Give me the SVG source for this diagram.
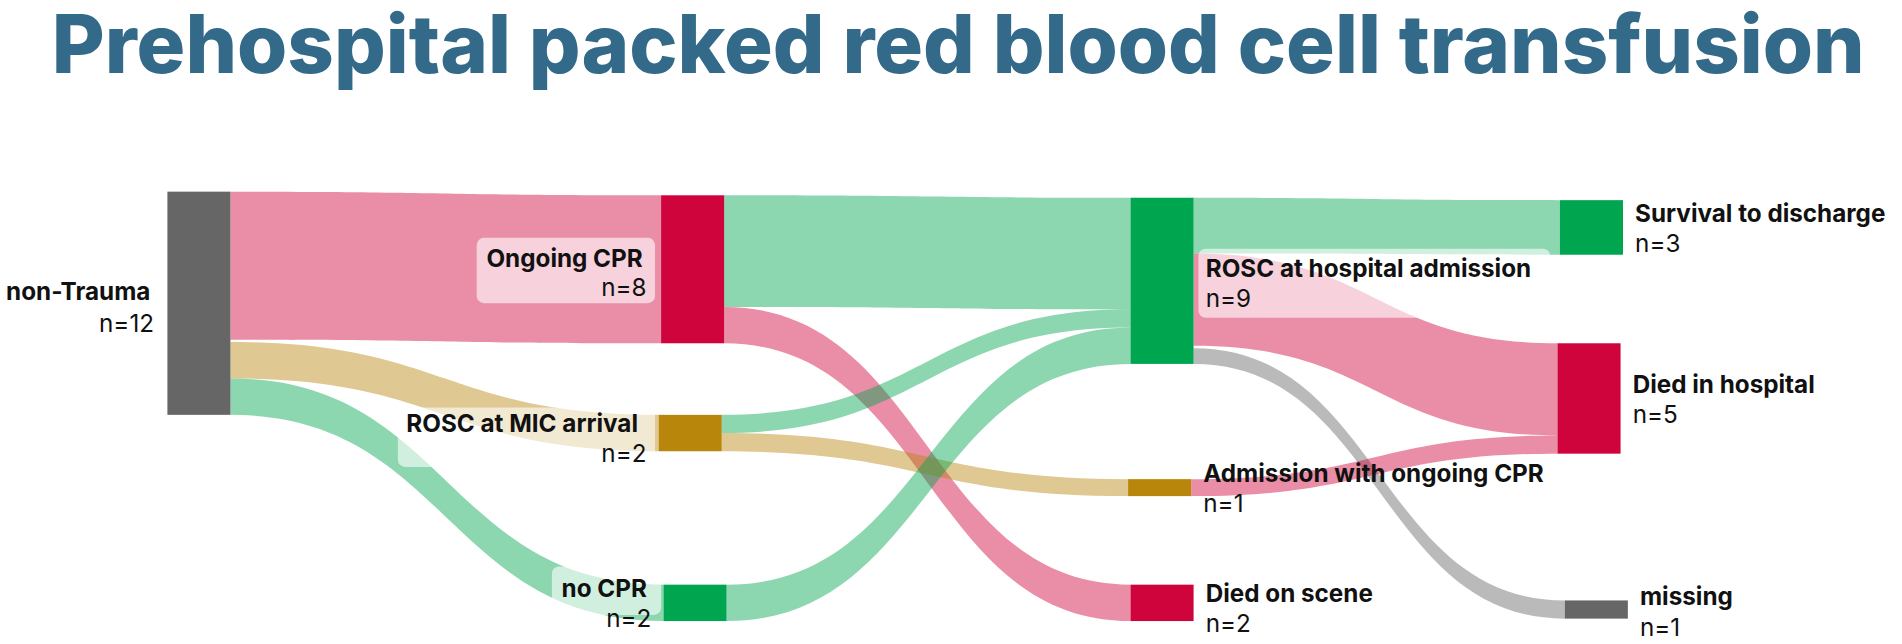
<svg xmlns="http://www.w3.org/2000/svg" width="1902" height="644" viewBox="0 0 1902 644">
<style>
.t{font-family:Inter,"Liberation Sans",sans-serif;fill:#336a89;font-weight:800;font-size:67px}
.l{font-family:Inter,"Liberation Sans",sans-serif;font-size:20px;fill:#111}
.b{font-weight:700}
.pk{fill:#D0043C;opacity:.45}.gr{fill:#00A550;opacity:.45}.gd{fill:#B8860B;opacity:.45}.gy{fill:#666;opacity:.45}
.bx{fill:#fff;opacity:.6}
</style>
<rect width="1902" height="644" fill="#fff"/>
<g transform="scale(1.213)">
<text class="t" x="790" y="60" text-anchor="middle">Prehospital packed red blood cell transfusion</text>
<g id="connectors">
<path class="pk" d="M190 158C367.5 158 367.5 161 545 161L545 283C367.5 283 367.5 280 190 280Z"/>
<path class="gd" d="M190 282C366.5 282 366.5 342 543 342L543 372C366.5 372 366.5 312 190 312Z"/>
<path class="gr" d="M190 312C368.5 312 368.5 482 547 482L547 512C368.5 512 368.5 342 190 342Z"/>
<path class="gr" d="M597 161C764.5 161 764.5 163 932 163L932 255C764.5 255 764.5 253 597 253Z"/>
<path class="pk" d="M597 253C764.5 253 764.5 482 932 482L932 512C764.5 512 764.5 283 597 283Z"/>
<path class="gr" d="M595 342C763.5 342 763.5 255 932 255L932 270C763.5 270 763.5 357 595 357Z"/>
<path class="gd" d="M595 357C762.5 357 762.5 395 930 395L930 409C762.5 409 762.5 372 595 372Z"/>
<path class="gr" d="M599 482C765.5 482 765.5 270 932 270L932 300C765.5 300 765.5 512 599 512Z"/>
<path class="gr" d="M984 163C1135 163 1135 165 1286 165L1286 210C1135 210 1135 209 984 209Z"/>
<path class="pk" d="M984 209C1134 209 1134 283 1284 283L1284 359C1134 359 1134 285 984 285Z"/>
<path class="gy" d="M984 287C1137 287 1137 495 1290 495L1290 510C1137 510 1137 300 984 300Z"/>
<path class="pk" d="M982 395C1133 395 1133 359 1284 359L1284 374C1133 374 1133 409 982 409Z"/>
</g>
<g id="nonTrauma"><rect x="138" y="158" width="52" height="184" fill="#666"/><text class="l b" x="5" y="247">non-Trauma</text><text class="l" x="127" y="274" text-anchor="end">n=12</text></g>
<g id="ongoingCPR"><rect class="bx" x="393" y="196" width="147" height="54" rx="6"/><rect x="545" y="161" width="52" height="122" fill="#D0043C"/><text class="l b" x="401" y="220">Ongoing CPR</text><text class="l" x="533" y="244" text-anchor="end">n=8</text></g>
<g id="roscMIC"><rect class="bx" x="328" y="336" width="212" height="49" rx="6"/><rect x="543" y="342" width="52" height="30" fill="#B8860B"/><text class="l b" x="335" y="356">ROSC at MIC arrival</text><text class="l" x="533" y="381" text-anchor="end">n=2</text></g>
<g id="noCPR"><rect class="bx" x="455" y="467" width="90" height="40" rx="6"/><rect x="547" y="482" width="52" height="30" fill="#00A550"/><text class="l b" x="463" y="492">no CPR</text><text class="l" x="537" y="517" text-anchor="end">n=2</text></g>
<g id="roscHosp"><rect class="bx" x="988" y="205" width="290" height="57" rx="6"/><rect x="932" y="163" width="52" height="137" fill="#00A550"/><text class="l b" x="994" y="228">ROSC at hospital admission</text><text class="l" x="994" y="253">n=9</text></g>
<g id="admCPR"><rect x="930" y="395" width="52" height="14" fill="#B8860B"/><text class="l b" x="992" y="397">Admission with ongoing CPR</text><text class="l" x="992" y="422">n=1</text></g>
<g id="diedScene"><rect x="932" y="482" width="52" height="30" fill="#D0043C"/><text class="l b" x="994" y="496">Died on scene</text><text class="l" x="994" y="521">n=2</text></g>
<g id="survival"><rect x="1286" y="165" width="52" height="45" fill="#00A550"/><text class="l b" x="1348" y="183">Survival to discharge</text><text class="l" x="1348" y="208">n=3</text></g>
<g id="diedHosp"><rect x="1284" y="283" width="52" height="91" fill="#D0043C"/><text class="l b" x="1346" y="324">Died in hospital</text><text class="l" x="1346" y="349">n=5</text></g>
<g id="missing"><rect x="1290" y="495" width="52" height="15" fill="#666"/><text class="l b" x="1352" y="499">missing</text><text class="l" x="1352" y="524">n=1</text></g>
</g>
</svg>
